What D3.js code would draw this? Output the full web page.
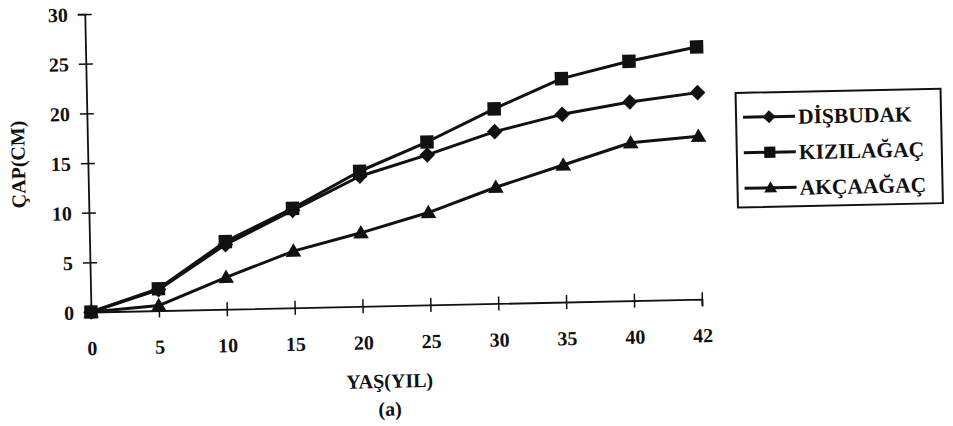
<!DOCTYPE html>
<html><head><meta charset="utf-8">
<script src="https://cdn.jsdelivr.net/npm/d3@7/dist/d3.min.js"></script>
<style>body{margin:0;background:#fff} svg{display:block}</style>
</head><body>
<svg id="c" width="953" height="426"></svg>
<script>
// ---- data ----
const ages = ["0","5","10","15","20","25","30","35","40","42"];
const disbudak  = [0, 2.1, 6.5, 9.8, 13.1, 15.1, 17.3, 18.9, 20.0, 20.8];
const kizilagac = [0, 2.2, 6.8, 10.0, 13.6, 16.4, 19.6, 22.5, 24.1, 25.4];
const akcaagac  = [0, 0.5, 3.2, 5.7, 7.4, 9.3, 11.7, 13.8, 15.9, 16.4];
const yTicks = [0, 5, 10, 15, 20, 25, 30];
const seriesNames = ["DİŞBUDAK", "KIZILAĞAÇ", "AKÇAAĞAÇ"];
const xTitle = "YAŞ(YIL)";
const yTitle = "ÇAP(CM)";
const caption = "(a)";

const INK = "#111";
const svg = d3.select("#c");

// pick an installed Times-like serif (fallback measured against DejaVu Serif)
const probe = svg.append("text").attr("font-weight", "bold").attr("font-size", 20).text("ÇAP(CM) YAŞ");
function widthOf(f) { probe.attr("font-family", f); return probe.node().getComputedTextLength(); }
const base = widthOf("'DejaVu Serif'");
let FONT = "serif";
for (const f of ["Liberation Serif", "Times New Roman", "Tinos", "Nimbus Roman", "Nimbus Roman No9 L", "FreeSerif", "Noto Serif", "Times"]) {
  const w = widthOf(`'${f}'`);
  if (Math.abs(w - base) > 2) { FONT = `'${f}'`; break; }
}
probe.remove();

svg.append("rect").attr("width", 953).attr("height", 426).attr("fill", "#fff");
// whole scan is slightly rotated
const g = svg.append("g").attr("transform", "rotate(-1.2,91,312)");

const x = d3.scalePoint().domain(ages).range([91, 702]);
const y = d3.scaleLinear().domain([0, 30]).range([312, 14]);

// x axis
const xa = g.append("g").attr("transform", `translate(0,${y(0)})`)
  .call(d3.axisBottom(x).tickSizeOuter(0).tickSize(7).tickPadding(0));
xa.select(".domain").attr("stroke", INK).attr("stroke-width", 1.8);
xa.selectAll(".tick line").attr("y1", -7).attr("y2", 7).attr("stroke", INK).attr("stroke-width", 1.5);
xa.selectAll(".tick text").attr("y", 29).attr("dy", "0.71em")
  .attr("font-family", FONT).attr("font-weight", "bold").attr("font-size", 20).attr("fill", INK);

// y axis
const ya = g.append("g").attr("transform", `translate(${x("0")},0)`)
  .call(d3.axisLeft(y).tickValues(yTicks).tickSizeOuter(0).tickSize(7).tickFormat(d3.format("d")));
ya.select(".domain").attr("stroke", INK).attr("stroke-width", 1.8);
ya.selectAll(".tick line").attr("x1", -7).attr("x2", 7).attr("stroke", INK).attr("stroke-width", 1.5);
ya.selectAll(".tick text").attr("x", -17).attr("dy", "0.34em")
  .attr("font-family", FONT).attr("font-weight", "bold").attr("font-size", 20).attr("fill", INK);

// titles
g.append("text").attr("x", 388).attr("y", 387).attr("dy", "0.35em").attr("text-anchor", "middle")
  .attr("font-family", FONT).attr("font-weight", "bold").attr("font-size", 20).attr("fill", INK).text(xTitle);
g.append("text").attr("x", 388).attr("y", 415).attr("dy", "0.35em").attr("text-anchor", "middle")
  .attr("font-family", FONT).attr("font-weight", "bold").attr("font-size", 20).attr("fill", INK).text(caption);
g.append("text").attr("transform", "translate(21,163) rotate(-90)").attr("dy", "0.35em").attr("text-anchor", "middle")
  .attr("font-family", FONT).attr("font-weight", "bold").attr("font-size", 20).attr("fill", INK).text(yTitle);

// markers
function markerPath(type, s) {
  if (type === "diamond") return `M0,${-s}L${s},0L0,${s}L${-s},0Z`;
  if (type === "square") return `M${-s*0.86},${-s*0.86}H${s*0.86}V${s*0.86}H${-s*0.86}Z`;
  return `M0,${-s}L${s},${s*0.72}L${-s},${s*0.72}Z`;
}
const series = [
  {name: seriesNames[0], values: disbudak, marker: "diamond"},
  {name: seriesNames[1], values: kizilagac, marker: "square"},
  {name: seriesNames[2], values: akcaagac, marker: "triangle"}
];
const line = d3.line().x((d, i) => x(ages[i])).y(d => y(d));
series.forEach(s => {
  g.append("path").datum(s.values).attr("d", line).attr("fill", "none")
    .attr("stroke", INK).attr("stroke-width", 3).attr("stroke-linejoin", "round");
  g.selectAll(null).data(s.values).enter().append("path")
    .attr("transform", (d, i) => `translate(${x(ages[i])},${y(d)})`)
    .attr("d", markerPath(s.marker, 7.8)).attr("fill", INK);
});

// legend
const lg = g.append("g");
lg.append("rect").attr("x", 740).attr("y", 106.5).attr("width", 205).attr("height", 114.5)
  .attr("fill", "#fff").attr("stroke", INK).attr("stroke-width", 2);
series.forEach((s, i) => {
  const cy = 131 + i * 35.5;
  lg.append("line").attr("x1", 747).attr("x2", 799).attr("y1", cy).attr("y2", cy)
    .attr("stroke", INK).attr("stroke-width", 3);
  lg.append("path").attr("transform", `translate(773,${cy})`).attr("d", markerPath(s.marker, 6.5)).attr("fill", INK);
  lg.append("text").attr("x", 802).attr("y", cy).attr("dy", "0.35em")
    .attr("font-family", FONT).attr("font-weight", "bold").attr("font-size", 21.5).attr("fill", INK).text(s.name);
});
</script>
</body></html>
